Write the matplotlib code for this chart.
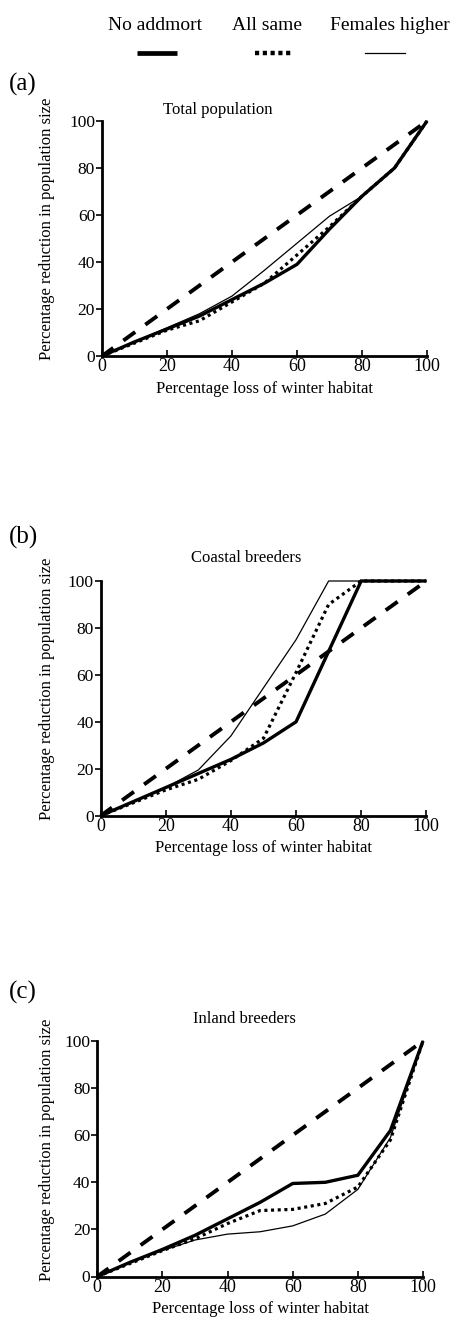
import matplotlib
matplotlib.use("Agg")
import matplotlib.pyplot as plt
from matplotlib.lines import Line2D

plt.rcParams["font.family"] = ["Liberation Serif", "DejaVu Serif"]
plt.rcParams["lines.scale_dashes"] = False

# Percentage loss of winter habitat
habitat_loss = [0, 10, 20, 30, 40, 50, 60, 70, 80, 90, 100]

# (a) Total population
total_no_addmort = [0, 6, 11.5, 17, 24, 31, 39, 54, 68, 80, 100]
total_all_same = [0, 5.5, 11, 15, 23, 31, 43, 55, 68, 80, 100]
total_females_higher = [0, 6, 12, 18, 25.5, 36.5, 48, 59.5, 68, 80, 100]

# (b) Coastal breeders
coastal_no_addmort = [0, 6, 12, 18, 24, 31, 40, 70, 100, 100, 100]
coastal_all_same = [0, 5.5, 11, 15.5, 23.5, 33, 61, 90, 100, 100, 100]
coastal_females_higher = [0, 6, 12, 19.5, 34, 54.5, 75, 100, 100, 100, 100]

# (c) Inland breeders
inland_no_addmort = [0, 6, 11.5, 17.5, 24.5, 31.5, 39.5, 40, 43, 62, 100]
inland_all_same = [0, 5.5, 11, 16, 22.5, 28, 28.5, 31, 38, 58, 100]
inland_females_higher = [0, 6, 11, 15.5, 18, 19, 21.5, 26.5, 37, 59, 100]

series_names = ["No addmort", "All same", "Females higher"]
panel_letters = ["(a)", "(b)", "(c)"]
panel_titles = ["Total population", "Coastal breeders", "Inland breeders"]
ticks = [0, 20, 40, 60, 80, 100]

W, H = 452, 1319
fig = plt.figure(figsize=(W / 100, H / 100), dpi=100)


def fx(px):
    return px / W


def fy(py):
    return 1 - py / H


styles = [
    dict(color="black", lw=2.4, solid_capstyle="butt", solid_joinstyle="miter"),
    dict(color="black", lw=2.3, linestyle=(0, (2.2, 2.6)), dash_capstyle="butt"),
    dict(color="black", lw=0.9),
]
diag_style = dict(color="black", lw=2.8, linestyle=(0.5, (10.5, 9.0)), dash_capstyle="butt")

# axes boxes in pixels: left, right, top, bottom
boxes = [(102, 427, 121, 356), (100.7, 426.3, 581, 815.7), (97.3, 423, 1041, 1276.5)]
title_x = [0.357, 0.446, 0.453]
title_gap = [11, 23, 22]
letter_y = [84, 537, 992]
ylabel_shift = [0.54, 0.54, 0.54]

panels = [
    (total_no_addmort, total_all_same, total_females_higher),
    (coastal_no_addmort, coastal_all_same, coastal_females_higher),
    (inland_no_addmort, inland_all_same, inland_females_higher),
]

for i, (series, (l, r, t, b)) in enumerate(zip(panels, boxes)):
    ax = fig.add_axes([fx(l), fy(b), (r - l) / W, (b - t) / H])
    ax.plot([0, 100], [0, 100], clip_on=False, **diag_style)
    for vals, st in zip(series, styles):
        ax.plot(habitat_loss, vals, clip_on=False, **st)
    ax.set_xlim(0, 100)
    ax.set_ylim(0, 100)
    ax.set_xticks(ticks)
    ax.set_yticks(ticks)
    for side in ("top", "right"):
        ax.spines[side].set_visible(False)
    for side in ("left", "bottom"):
        ax.spines[side].set_linewidth(2.0)
    ax.tick_params(axis="x", direction="in", length=4, width=1.2, pad=1.5, labelsize=13)
    ax.tick_params(axis="y", direction="out", length=4, width=1.2, pad=1, labelsize=12.5)
    ax.set_xlabel("Percentage loss of winter habitat", fontsize=12, labelpad=4)
    ax.set_ylabel("Percentage reduction in population size", fontsize=12, labelpad=4)
    ax.yaxis.set_label_coords(-(l - 55) / (r - l), ylabel_shift[i])
    ax.text(title_x[i], 1 + title_gap[i] / (b - t), panel_titles[i], transform=ax.transAxes,
            ha="center", va="center", fontsize=12)
    fig.text(fx(9), fy(letter_y[i]), panel_letters[i], ha="left", va="center", fontsize=18)

# legend across the top
legend_text_x = [155, 267.5, 389.5]
legend_line_x = [(137, 177), (255, 293), (365, 405)]
legend_styles = [
    dict(color="black", lw=3.4, solid_capstyle="butt"),
    dict(color="black", lw=3.2, linestyle=(0, (3.0, 2.6)), dash_capstyle="butt"),
    dict(color="black", lw=0.9),
]
for name, tx, (x0, x1), st in zip(series_names, legend_text_x, legend_line_x, legend_styles):
    fig.text(fx(tx), fy(25), name, ha="center", va="center", fontsize=14)
    fig.add_artist(Line2D([fx(x0), fx(x1)], [fy(53), fy(53)], transform=fig.transFigure, **st))

fig.savefig("out.png", dpi=100, facecolor="white")
